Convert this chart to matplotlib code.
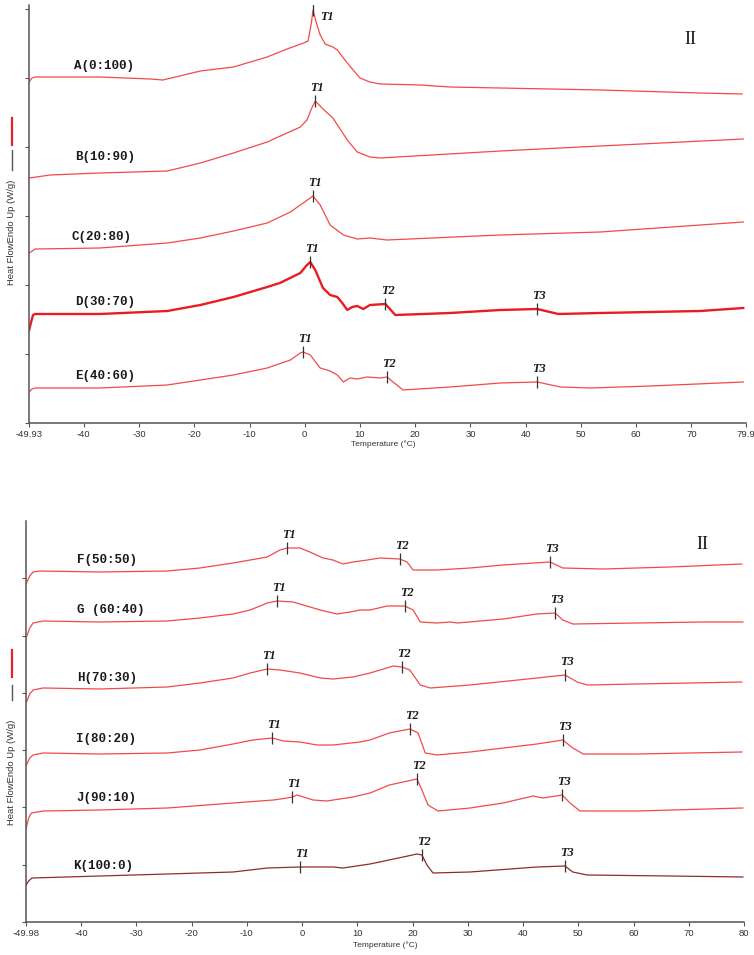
import numpy as np
import matplotlib
matplotlib.use("Agg")
import matplotlib.pyplot as plt
from matplotlib.lines import Line2D
from matplotlib.ticker import MultipleLocator

# ---------------- data: top panel (blends A-E) ----------------
A_T = [-49.9, -49.4, -48.8, -37.1, -28.0, -25.7, -18.9, -12.9, -6.8, -3.2, -0.2, 0.6, 1.2, 1.5, 2.1,
       2.8, 3.7, 5.1, 5.9, 7.7, 10.0, 11.8, 13.7, 20.9, 26.3, 35.4, 53.5, 71.6, 79.2]
A_hf = [3.41, 3.45, 3.46, 3.46, 3.44, 3.43, 3.52, 3.56, 3.66, 3.74, 3.80, 3.82, 4.00, 4.13, 4.00,
        3.88, 3.79, 3.76, 3.73, 3.60, 3.45, 3.41, 3.39, 3.38, 3.36, 3.35, 3.33, 3.30, 3.29]
B_T = [-49.9, -46.1, -37.1, -24.9, -18.9, -12.9, -6.8, -0.8, 0.4, 1.2, 1.9, 3.5, 5.1, 7.7, 9.5, 11.8,
       13.7, 35.4, 53.5, 79.4]
B_hf = [2.45, 2.48, 2.50, 2.52, 2.60, 2.70, 2.81, 2.96, 3.03, 3.14, 3.22, 3.13, 3.05, 2.83, 2.71, 2.66,
        2.65, 2.72, 2.77, 2.84]
C_T = [-49.9, -48.8, -37.1, -24.9, -18.9, -12.9, -6.8, -2.6, 1.5, 2.8, 4.6, 7.0, 9.5, 11.8, 14.9,
       35.4, 53.5, 79.4]
C_hf = [1.70, 1.74, 1.75, 1.80, 1.85, 1.92, 2.00, 2.11, 2.27, 2.18, 1.98, 1.88, 1.84, 1.85, 1.83,
        1.88, 1.91, 2.01]
D_T = [-49.9, -49.5, -49.2, -48.8, -37.1, -24.9, -18.9, -12.9, -6.8, -4.5, -0.8, 0.4, 1.0, 1.9, 3.3,
       4.6, 5.9, 6.8, 7.7, 8.6, 9.5, 10.6, 11.8, 14.6, 16.4, 26.3, 35.4, 42.1, 45.9, 53.5, 71.6, 79.4]
D_hf = [0.93, 1.02, 1.08, 1.09, 1.09, 1.12, 1.18, 1.26, 1.36, 1.40, 1.50, 1.58, 1.61, 1.53, 1.35,
        1.28, 1.26, 1.20, 1.13, 1.16, 1.17, 1.14, 1.18, 1.19, 1.08, 1.10, 1.13, 1.14, 1.09, 1.10, 1.12, 1.15]
E_T = [-49.9, -49.4, -48.8, -37.1, -24.9, -18.9, -12.9, -6.8, -2.6, -0.8, -0.3, 1.0, 2.8, 4.6, 5.9,
       7.0, 8.2, 9.5, 11.3, 13.7, 14.9, 16.0, 17.8, 26.3, 35.4, 42.1, 46.3, 51.7, 62.6, 79.4]
E_hf = [0.31, 0.34, 0.35, 0.35, 0.38, 0.43, 0.48, 0.55, 0.63, 0.70, 0.71, 0.68, 0.55, 0.52, 0.48,
        0.41, 0.45, 0.44, 0.46, 0.45, 0.46, 0.41, 0.33, 0.36, 0.40, 0.41, 0.36, 0.35, 0.37, 0.41]

# ---------------- data: bottom panel (blends F-K) ----------------
F_T = [-49.9, -49.3, -48.7, -47.4, -36.6, -24.4, -18.5, -12.5, -6.3, -4.0, -2.7, -0.4, 1.4, 3.8, 5.6,
       7.4, 9.2, 11.8, 14.1, 17.7, 19.0, 20.1, 24.4, 30.4, 36.4, 44.9, 47.2, 54.5, 66.6, 79.6]
F_hf = [3.39, 3.46, 3.50, 3.51, 3.50, 3.51, 3.54, 3.59, 3.65, 3.72, 3.74, 3.74, 3.70, 3.64, 3.62,
        3.58, 3.60, 3.62, 3.64, 3.63, 3.60, 3.52, 3.52, 3.54, 3.57, 3.60, 3.54, 3.53, 3.55, 3.58]
G_T = [-49.9, -49.3, -48.7, -46.9, -36.6, -24.4, -18.5, -12.5, -9.4, -6.3, -4.5, -1.6, 0.2, 3.3, 6.3,
       8.7, 10.5, 12.3, 15.4, 18.6, 20.1, 21.4, 24.4, 26.8, 28.1, 36.4, 42.5, 45.8, 47.2, 49.0, 60.6, 72.6, 79.8]
G_hf = [2.85, 2.94, 2.99, 3.01, 3.00, 3.01, 3.04, 3.08, 3.12, 3.19, 3.21, 3.20, 3.17, 3.12, 3.08,
        3.10, 3.12, 3.12, 3.16, 3.16, 3.12, 3.00, 2.99, 3.00, 2.99, 3.03, 3.08, 3.09, 3.02, 2.98, 2.99, 3.00, 3.00]
H_T = [-49.9, -49.3, -48.7, -46.9, -36.6, -24.4, -18.5, -12.5, -9.4, -6.3, -4.0, -0.4, 3.3, 5.6, 9.2,
       12.3, 16.5, 18.1, 19.5, 21.4, 23.2, 30.4, 42.5, 47.6, 49.8, 51.6, 60.6, 79.6]
H_hf = [2.20, 2.28, 2.32, 2.34, 2.33, 2.35, 2.39, 2.44, 2.49, 2.53, 2.52, 2.49, 2.44, 2.43, 2.45,
        2.49, 2.56, 2.55, 2.52, 2.37, 2.34, 2.37, 2.44, 2.47, 2.40, 2.37, 2.38, 2.40]
I_T = [-49.9, -49.3, -48.7, -46.9, -36.6, -24.4, -18.5, -12.5, -8.9, -5.4, -3.4, -0.4, 2.7, 5.6, 10.5,
       12.3, 15.8, 19.5, 21.0, 22.3, 24.4, 30.4, 42.5, 47.2, 49.0, 50.9, 60.6, 79.6]
I_hf = [1.57, 1.64, 1.67, 1.69, 1.68, 1.69, 1.72, 1.78, 1.82, 1.84, 1.81, 1.80, 1.77, 1.77, 1.80,
        1.82, 1.89, 1.93, 1.89, 1.69, 1.67, 1.70, 1.78, 1.82, 1.74, 1.68, 1.68, 1.70]
J_T = [-49.95, -49.5, -49.0, -46.9, -36.6, -24.4, -12.5, -5.2, -2.7, -1.8, -0.9, 2.0, 4.5, 9.2, 12.3,
       15.8, 18.3, 20.8, 21.7, 22.8, 24.6, 30.4, 36.4, 41.8, 43.6, 47.1, 48.5, 50.3, 60.6, 79.8]
J_hf = [0.94, 1.04, 1.09, 1.11, 1.12, 1.14, 1.19, 1.22, 1.24, 1.25, 1.27, 1.22, 1.21, 1.25, 1.29,
        1.37, 1.40, 1.43, 1.32, 1.17, 1.11, 1.14, 1.19, 1.26, 1.24, 1.27, 1.19, 1.11, 1.11, 1.14]
K_T = [-49.95, -49.5, -48.9, -36.6, -24.4, -12.5, -6.3, -0.4, 5.6, 7.4, 12.3, 18.3, 20.8, 21.7, 22.6,
       23.7, 30.4, 42.5, 47.6, 49.0, 51.6, 66.6, 79.8]
K_hf = [0.37, 0.41, 0.44, 0.46, 0.48, 0.50, 0.54, 0.55, 0.55, 0.54, 0.58, 0.65, 0.68, 0.67, 0.57,
        0.49, 0.50, 0.55, 0.56, 0.50, 0.47, 0.46, 0.45]

top_names = ["A(0:100)", "B(10:90)", "C(20:80)", "D(30:70)", "E(40:60)"]
bot_names = ["F(50:50)", "G (60:40)", "H(70:30)", "I(80:20)", "J(90:10)", "K(100:0)"]

# transition temperatures (T1, T2, T3)
top_trans = [[1.5], [1.9], [1.5], [1.0, 14.6, 42.1], [-0.3, 14.9, 42.1]]
bot_trans = [[-2.7, 17.7, 44.9], [-4.5, 18.6, 45.8], [-6.3, 18.1, 47.6],
             [-5.4, 19.5, 47.2], [-1.8, 20.8, 47.1], [-0.4, 21.7, 47.6]]

top_xticks = [-49.93, -40, -30, -20, -10, 0, 10, 20, 30, 40, 50, 60, 70, 79.9]
top_xlabels = ["-49.93", "-40", "-30", "-20", "-10", "0", "10", "20", "30", "40", "50", "60", "70", "79.9"]
bot_xticks = [-49.98, -40, -30, -20, -10, 0, 10, 20, 30, 40, 50, 60, 70, 80]
bot_xlabels = ["-49.98", "-40", "-30", "-20", "-10", "0", "10", "20", "30", "40", "50", "60", "70", "80"]

# ---------------- layout / style ----------------
top_curves = [(A_T, A_hf), (B_T, B_hf), (C_T, C_hf), (D_T, D_hf), (E_T, E_hf)]
bot_curves = [(F_T, F_hf), (G_T, G_hf), (H_T, H_hf), (I_T, I_hf), (J_T, J_hf), (K_T, K_hf)]
top_label_pos = [(-41.8, 3.57), (-41.6, 2.66), (-42.2, 1.86), (-41.6, 1.21), (-41.6, 0.47)]
bot_label_pos = [(-40.7, 3.62), (-40.7, 3.12), (-40.7, 2.44), (-40.9, 1.83), (-40.9, 1.24), (-41.4, 0.56)]
top_colors = ["#f24a4a", "#f24a4a", "#f24a4a", "#e81c22", "#f24a4a"]
top_lw = [0.9, 0.9, 0.9, 1.7, 0.9]
bot_colors = ["#f24a4a"] * 5 + ["#8e2c2c"]

W, H = 754, 955
fig = plt.figure(figsize=(W / 100, H / 100), dpi=100)

ax1 = fig.add_axes([29 / W, 1 - 423 / H, (746 - 29) / W, (423 - 5) / H])
ax2 = fig.add_axes([26 / W, 1 - 922 / H, (744 - 26) / W, (922 - 521) / H])

label_font = dict(family="Liberation Mono", fontweight="bold", fontsize=9, color="#1a1a1a")
tfont = dict(family="Liberation Serif", fontweight="bold", style="italic", fontsize=8.8, color="#1a1a1a")


def style_axes(ax, xlim, ylim, xticks, xlabels, ystep):
    ax.set_xlim(*xlim)
    ax.set_ylim(*ylim)
    for s in ["top", "right"]:
        ax.spines[s].set_visible(False)
    for s in ["left", "bottom"]:
        ax.spines[s].set_color("#555555")
        ax.spines[s].set_linewidth(1.1)
    ax.set_xticks(xticks)
    ax.set_xticklabels(xlabels, family="Liberation Sans", fontsize=6.8, color="#333333")
    ax.yaxis.set_major_locator(MultipleLocator(ystep))
    ax.set_yticklabels([])
    ax.tick_params(axis="both", direction="out", length=3, width=0.8, color="#555555", pad=2)


def draw_panel(ax, curves, names, trans, colors, lws, label_pos, first_special=False):
    for i, ((t, hf), name, tr, c, lw, lp) in enumerate(zip(curves, names, trans, colors, lws, label_pos)):
        ax.plot(t, hf, color=c, lw=lw, solid_joinstyle="round")
        ax.text(lp[0], lp[1], name, ha="left", va="center", **label_font)
        for k, tv in enumerate(tr):
            yv = np.interp(tv, t, hf)
            ax.plot([tv], [yv], marker="|", markersize=9, markeredgewidth=0.9, color="#333333")
            if first_special and i == 0 and k == 0:
                ax.annotate("T%d" % (k + 1), (tv, yv), xytext=(10, -5), textcoords="offset points",
                            ha="center", va="center", **tfont)
            else:
                ax.annotate("T%d" % (k + 1), (tv, yv), xytext=(1.5, 9.5), textcoords="offset points",
                            ha="center", va="center", **tfont)


style_axes(ax1, (-49.93, 79.9), (0, 4.18), top_xticks, top_xlabels, 0.69)
style_axes(ax2, (-49.98, 80), (0, 4.01), bot_xticks, bot_xlabels, 0.573)

draw_panel(ax1, top_curves, top_names, top_trans, top_colors, top_lw, top_label_pos, first_special=True)
draw_panel(ax2, bot_curves, bot_names, bot_trans, bot_colors, [0.9] * 6, bot_label_pos)

# panel marks
fig.text(690 / W, 1 - 40 / H, "II", family="Liberation Serif", fontsize=13, ha="center", va="center",
         color="#1a1a1a")
fig.text(702 / W, 1 - 544 / H, "II", family="Liberation Serif", fontsize=13, ha="center", va="center",
         color="#1a1a1a")

# x-axis titles
fig.text(383 / W, 1 - 444 / H, "Temperature (°C)", family="Liberation Sans", fontsize=6,
         ha="center", va="center", color="#333333")
fig.text(385 / W, 1 - 945 / H, "Temperature (°C)", family="Liberation Sans", fontsize=6,
         ha="center", va="center", color="#333333")

# y-axis titles with legend strokes
for ty, gy, ry in [(232, (150, 170), (118, 145)), (772, (685, 700), (650, 677))]:
    fig.text(12 / W, 1 - ty / H, "Heat FlowEndo Up (W/g)", family="Liberation Sans", fontsize=6.8,
             rotation=90, ha="center", va="center", color="#333333")
    fig.add_artist(Line2D([12 / W, 12 / W], [1 - gy[0] / H, 1 - gy[1] / H], transform=fig.transFigure,
                          color="#555555", lw=1.0))
    fig.add_artist(Line2D([12 / W, 12 / W], [1 - ry[0] / H, 1 - ry[1] / H], transform=fig.transFigure,
                          color="#e8202a", lw=1.6))

fig.savefig("out.png", dpi=100)
